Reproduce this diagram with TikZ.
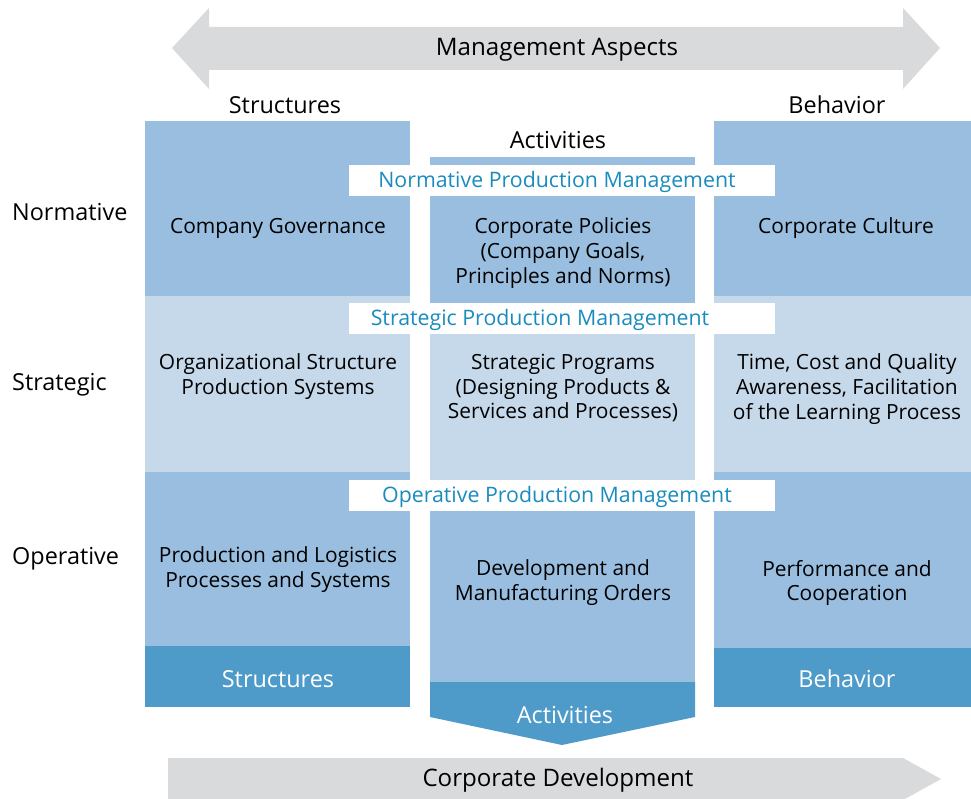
\documentclass[tikz,border=0pt]{standalone}
\usepackage{fontspec}
\setmainfont{Open Sans}

\definecolor{cellmid}{HTML}{9ABEDF}
\definecolor{celllight}{HTML}{C6D9EB}
\definecolor{celldark}{HTML}{4E9BCA}
\definecolor{bandblue}{HTML}{1A8BBF}
\definecolor{arrowgray}{HTML}{D9DADC}

\tikzset{
  heading/.style={font=\fontsize{23.5}{25}\selectfont, inner sep=0pt},
  arrowtext/.style={font=\fontsize{24.2}{25}\selectfont, inner sep=0pt},
  celltext/.style={font=\fontsize{21}{25}\selectfont, align=center, inner sep=0pt},
  rowname/.style={font=\fontsize{23.5}{25}\selectfont, anchor=west, inner sep=0pt},
  bandtext/.style={font=\fontsize{21.4}{25}\selectfont, text=bandblue, inner sep=0pt},
  foottext/.style={font=\fontsize{23.5}{25}\selectfont, text=white, inner sep=0pt}
}

\begin{document}
\begin{tikzpicture}[x=1bp, y=-1bp]
	\useasboundingbox (0, 0) rectangle (971, 799);
	% the two gray arrows
	\fill[arrowgray] (172, 48) -- (209, 8) -- (209, 27) -- (903, 27) -- (903, 8) -- (940, 48)
		-- (903, 89) -- (903, 70) -- (209, 70) -- (209, 89) -- cycle;
	\fill[arrowgray] (168, 758) -- (903, 758) -- (941, 779) -- (903, 800) -- (168, 800) -- cycle;
	% structures column
	\fill[cellmid] (145, 121) rectangle (410, 296);
	\fill[celllight] (145, 296) rectangle (410, 472);
	\fill[cellmid] (145, 472) rectangle (410, 646);
	\fill[celldark] (145, 646) rectangle (410, 707);
	% activities column
	\fill[cellmid] (430, 157) rectangle (695, 303);
	\fill[celllight] (430, 303) rectangle (695, 480);
	\fill[cellmid] (430, 480) rectangle (695, 682);
	\fill[celldark] (430, 682) -- (695, 682) -- (695, 717) -- (562, 745) -- (430, 717) -- cycle;
	% behavior column
	\fill[cellmid] (714, 121) rectangle (971, 296);
	\fill[celllight] (714, 296) rectangle (971, 472);
	\fill[cellmid] (714, 472) rectangle (971, 648);
	\fill[celldark] (714, 648) rectangle (971, 707);
	% white bands across the columns
	\foreach \y in {165, 303, 480}
		\fill[white] (349, \y) rectangle (775, \y + 31);

	\node[arrowtext] (aspects) at (557, 50) {Management Aspects};
	\node[arrowtext] (development) at (558, 780) {Corporate Development};
	\node[heading] (structures) at (285, 105) {Structures};
	\node[heading] (activities) at (558, 140) {Activities};
	\node[heading] (behavior) at (837, 105) {Behavior};

	\node[rowname] (normative) at (12, 212) {Normative};
	\node[rowname] (strategic) at (12, 385) {Strategic};
	\node[rowname] (operative) at (12, 559) {Operative};

	\node[bandtext] (normband) at (557, 182) {Normative Production Management};
	\node[bandtext] (stratband) at (540, 320) {Strategic Production Management};
	\node[bandtext] (operband) at (557, 497) {Operative Production Management};

	\node[celltext] (governance) at (278, 228) {Company Governance};
	\node[celltext] (orgstruct) at (278, 377) {Organizational Structure\\Production Systems};
	\node[celltext] (logistics) at (278, 570) {Production and Logistics\\Processes and Systems};
	\node[celltext] (policies) at (563, 253) {Corporate Policies\\(Company Goals,\\Principles and Norms)};
	\node[celltext] (programs) at (563, 388) {Strategic Programs\\(Designing Products \&\\Services and Processes)};
	\node[celltext] (orders) at (563, 583) {Development and\\Manufacturing Orders};
	\node[celltext] (culture) at (846, 228) {Corporate Culture};
	\node[celltext] (awareness) at (847, 389) {Time, Cost and Quality\\Awareness, Facilitation\\of the Learning Process};
	\node[celltext] (cooperation) at (847, 583) {Performance and\\Cooperation};

	\node[foottext] (structfoot) at (278, 679) {Structures};
	\node[foottext] (actfoot) at (565, 715) {Activities};
	\node[foottext] (behavfoot) at (847, 679) {Behavior};
\end{tikzpicture}
\end{document}
